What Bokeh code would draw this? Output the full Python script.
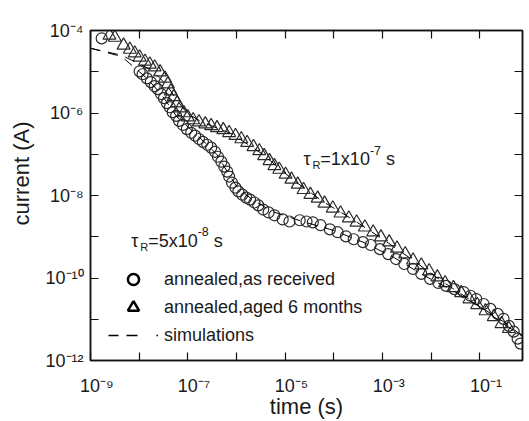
from bokeh.plotting import figure
from bokeh.models import (FixedTicker, LogAxis, Label, Legend, LegendItem, Range1d,
                          CustomJSTickFormatter)
from bokeh.embed import file_html
from bokeh.resources import INLINE

# ---------------- data (log10 values) ----------------
# annealed, as received (circles): log10(time/s), log10(current/A)
circ_log_t = [-8.77, -7.99, -7.93, -7.84, -7.76, -7.68, -7.62, -7.55, -7.49, -7.43,
              -7.37, -7.31, -7.24, -7.18, -7.10, -7.02, -6.93, -6.85, -6.77, -6.69,
              -6.60, -6.52, -6.44, -6.38, -6.31, -6.25, -6.19, -6.15, -6.09, -6.02,
              -5.96, -5.88, -5.80, -5.72, -5.63, -5.55, -5.45, -5.34, -5.22, -5.05,
              -4.91, -4.70, -4.56, -4.43, -4.27, -4.08, -3.92, -3.75, -3.59, -3.40,
              -3.24, -3.05, -2.88, -2.72, -2.55, -2.37, -2.20, -2.02, -1.85, -1.69,
              -1.52, -1.33, -1.19, -1.07, -0.92, -0.78, -0.63, -0.51, -0.40, -0.30,
              -0.22, -0.16]
circ_log_i = [-4.19, -4.99, -5.06, -5.16, -5.25, -5.35, -5.42, -5.54, -5.64, -5.76,
              -5.86, -5.98, -6.07, -6.19, -6.29, -6.39, -6.48, -6.55, -6.63, -6.70,
              -6.77, -6.84, -6.94, -7.06, -7.18, -7.30, -7.42, -7.54, -7.69, -7.81,
              -7.90, -7.98, -8.05, -8.10, -8.17, -8.24, -8.34, -8.41, -8.48, -8.58,
              -8.63, -8.60, -8.63, -8.65, -8.72, -8.82, -8.89, -8.99, -9.06, -9.13,
              -9.20, -9.30, -9.42, -9.54, -9.66, -9.78, -9.90, -10.02, -10.12, -10.19,
              -10.27, -10.34, -10.43, -10.51, -10.63, -10.75, -10.87, -10.99, -11.16, -11.30,
              -11.47, -11.59]

# annealed, aged 6 months (triangles)
tri_log_t = [-8.61, -8.50, -8.32, -8.19, -8.09, -7.99, -7.88, -7.78, -7.68, -7.57,
             -7.47, -7.41, -7.35, -7.29, -7.22, -7.16, -7.08, -7.00, -6.89, -6.77,
             -6.64, -6.52, -6.40, -6.27, -6.15, -6.02, -5.90, -5.78, -5.65, -5.53,
             -5.43, -5.32, -5.22, -5.12, -4.99, -4.87, -4.74, -4.62, -4.48, -4.33,
             -4.19, -4.02, -3.86, -3.69, -3.53, -3.36, -3.19, -3.03, -2.86, -2.70,
             -2.53, -2.37, -2.20, -2.04, -1.87, -1.71, -1.54, -1.38, -1.21, -1.05,
             -0.88, -0.71, -0.55, -0.40]
tri_log_i = [-4.12, -4.17, -4.36, -4.46, -4.55, -4.65, -4.75, -4.82, -4.89, -5.01,
             -5.16, -5.30, -5.47, -5.61, -5.76, -5.88, -6.00, -6.10, -6.17, -6.22,
             -6.27, -6.31, -6.36, -6.41, -6.48, -6.55, -6.63, -6.72, -6.82, -6.92,
             -7.04, -7.16, -7.28, -7.37, -7.49, -7.61, -7.73, -7.86, -7.98, -8.07,
             -8.19, -8.31, -8.43, -8.55, -8.65, -8.77, -8.89, -9.01, -9.13, -9.28,
             -9.42, -9.57, -9.69, -9.83, -9.98, -10.12, -10.24, -10.36, -10.51, -10.65,
             -10.80, -10.94, -11.11, -11.23]

# simulations, tau_R = 1e-7 s
sim1_log_t = [-9.00, -8.36, -7.74, -7.43, -7.22, -7.02, -6.71, -6.09, -5.47, -4.85,
              -4.23, -3.61, -2.99, -2.37, -1.75, -1.13, -0.51, -0.05]
sim1_log_i = [-4.43, -4.60, -4.96, -5.33, -5.69, -6.00, -6.22, -6.51, -6.99, -7.61,
              -8.14, -8.58, -9.06, -9.57, -10.10, -10.58, -11.11, -11.47]
# simulations, tau_R = 5e-8 s
sim2_log_t = [-9.00, -8.36, -7.84, -7.53, -7.22, -6.91, -6.60, -6.40, -6.19, -5.98,
              -5.67, -5.26, -4.64, -4.02, -3.40, -2.78, -2.16, -1.54, -0.92, -0.51, -0.05]
sim2_log_i = [-4.43, -4.63, -5.16, -5.57, -6.10, -6.43, -6.77, -7.01, -7.42, -7.81,
              -8.10, -8.39, -8.63, -8.84, -9.13, -9.49, -9.93, -10.31, -10.75, -11.06, -11.47]

x_tick_exps = list(range(-9, 1))
y_tick_exps = list(range(-12, -3))
x_label_exps = [-9, -7, -5, -3, -1]
y_label_exps = [-4, -6, -8, -10, -12]
legend_labels = ["annealed,as received", "annealed,aged 6 months", "simulations"]
x_title = "time (s)"
y_title = "current (A)"

# ---------------- styling ----------------
FONT = "Liberation Sans"
TXT = "#1a1a1a"
MK = "#2a2a2a"
NAN = float("nan")

p = figure(width=529, height=421, x_axis_type="log", y_axis_type="log",
           x_range=Range1d(1e-9, 10 ** -0.12), y_range=Range1d(1e-12, 1e-4),
           output_backend="svg", toolbar_location=None,
           min_border_left=90, min_border_right=7, min_border_top=30, min_border_bottom=58)
p.background_fill_color = "white"
p.border_fill_color = "white"
p.grid.visible = False
p.outline_line_color = "#111111"
p.outline_line_width = 1.5

SUP_JS = """
const sup = {"-": "\u207b", "0": "\u2070", "1": "\u00b9", "2": "\u00b2", "3": "\u00b3",
             "4": "\u2074", "5": "\u2075", "6": "\u2076", "7": "\u2077", "8": "\u2078",
             "9": "\u2079"};
const e = Math.round(Math.log10(tick));
if (!show.includes(e)) { return ""; }
return pad + "10" + String(e).split("").map(c => sup[c]).join("");
"""


def style_axis(ax, ticks, show=None, pad=""):
    ax.ticker = FixedTicker(ticks=ticks, minor_ticks=[])
    ax.formatter = CustomJSTickFormatter(args=dict(show=show or [], pad=pad), code=SUP_JS)
    ax.major_tick_in = 8
    ax.major_tick_out = 0
    ax.minor_tick_in = 0
    ax.minor_tick_out = 0
    ax.major_tick_line_color = "#111111"
    ax.major_tick_line_width = 1.2
    ax.axis_line_color = "#111111"
    ax.axis_line_width = 1.5
    ax.major_label_text_font = FONT
    ax.major_label_text_font_size = "18px"
    ax.major_label_text_color = TXT
    ax.axis_label_text_font = FONT
    ax.axis_label_text_font_size = "22px"
    ax.axis_label_text_font_style = "normal"
    ax.axis_label_text_color = TXT


xt = [10.0 ** e for e in x_tick_exps]
yt = [10.0 ** e for e in y_tick_exps]
style_axis(p.xaxis[0], xt, x_label_exps, pad="\u2002\u2009")
p.xaxis[0].major_label_standoff = 15
p.xaxis[0].axis_label = x_title
p.xaxis[0].axis_label_standoff = -5
style_axis(p.yaxis[0], yt, y_label_exps)
p.yaxis[0].major_label_standoff = 7
p.yaxis[0].axis_label = "\u2003\u2003" + y_title
p.yaxis[0].axis_label_standoff = 8

top = LogAxis()
style_axis(top, xt)
top.major_label_standoff = 0
top.major_label_text_font_size = "1px"
p.add_layout(top, "above")
right = LogAxis()
style_axis(right, yt)
right.major_label_standoff = 0
right.major_label_text_font_size = "1px"
p.add_layout(right, "right")

circ_t = [10 ** v for v in circ_log_t]
circ_i = [10 ** v for v in circ_log_i]
tri_t = [10 ** v for v in tri_log_t]
tri_i = [10 ** v for v in tri_log_i]

p.scatter(circ_t, circ_i, marker="circle", size=11, fill_color=None,
          line_color=MK, line_width=1.2)
p.scatter(tri_t, tri_i, marker="triangle", size=13, fill_color=None,
          line_color=MK, line_width=1.2)
p.line([10 ** v for v in sim1_log_t], [10 ** v for v in sim1_log_i],
       line_color="black", line_width=1, line_dash="10 8")
p.line([10 ** v for v in sim2_log_t], [10 ** v for v in sim2_log_i],
       line_color="black", line_width=1, line_dash="10 8")

# legend keys: bold symbols from renderers whose single point is NaN (never drawn)
k1 = p.scatter(x=[NAN], y=[NAN], marker="circle", size=11, fill_color=None,
               line_color="black", line_width=2.5)
k2 = p.scatter(x=[NAN], y=[NAN], marker="triangle", size=14, fill_color=None,
               line_color="black", line_width=2.5)
k3 = p.line(x=[NAN, NAN], y=[NAN, NAN], line_color="black", line_width=1.5,
            line_dash="10 8 11 19 2 60")
legend = Legend(items=[LegendItem(label=legend_labels[0], renderers=[k1]),
                       LegendItem(label=legend_labels[1], renderers=[k2]),
                       LegendItem(label=legend_labels[2], renderers=[k3])],
                location=(18, 11), glyph_width=50, glyph_height=28, spacing=-2,
                padding=0, margin=0, label_standoff=6,
                label_text_font=FONT, label_text_font_size="18px", label_text_color=TXT,
                border_line_color=None, background_fill_alpha=0)
p.add_layout(legend)

# ---------------- tau annotations ----------------
WID = {'0': .556, '1': .556, '2': .556, '3': .556, '4': .556, '5': .556, '6': .556,
       '7': .556, '8': .556, '9': .556, '-': .333, '=': .584, 'x': .5, ' ': .278,
       '\u00a0': .278, 's': .5, 'R': .722, 'τ': .49}


def tw(txt, size):
    return sum(WID.get(c, .556) for c in txt) * size


def rich(x, y, pieces):
    off = 0
    for txt, size, dy in pieces:
        p.add_layout(Label(x=x, y=y, x_offset=off, y_offset=dy, text=txt,
                           text_font=FONT, text_font_size=f"{size}px", text_color=TXT,
                           text_align="left", text_baseline="alphabetic"))
        off += tw(txt, size)


rich(10 ** -4.62, 10 ** -7.125, [("τ", 18, 0), ("R", 11, -6), ("=1x10", 18, 0),
                                 ("-7", 12.5, 9), ("\u00a0s", 18, 0)])
rich(10 ** -8.16, 10 ** -9.10, [("τ", 18, 0), ("R", 11, -6), ("=5x10", 18, 0),
                                ("-8", 12.5, 9), ("\u00a0s", 18, 0)])

open("out.html", "w").write(file_html(p, INLINE))
